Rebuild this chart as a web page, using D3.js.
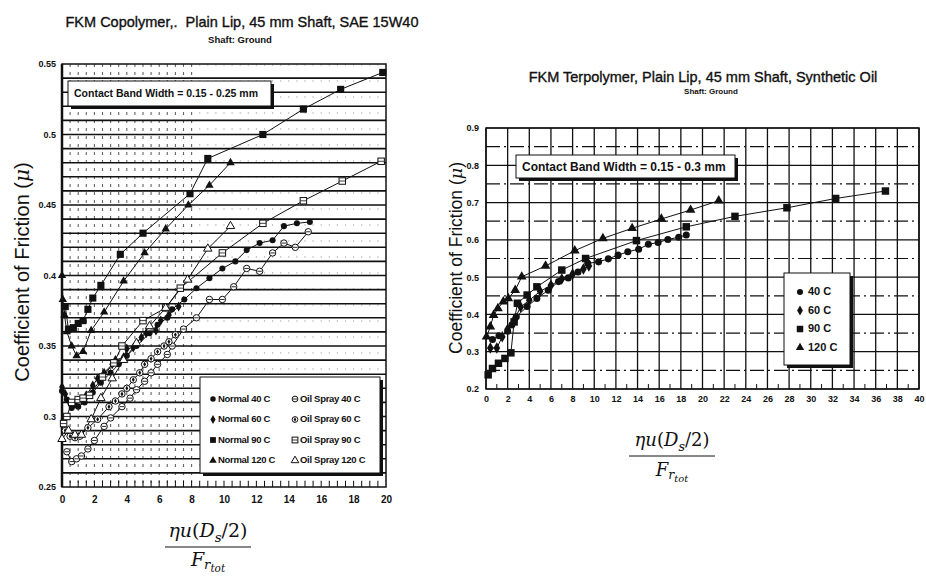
<!DOCTYPE html>
<html><head><meta charset="utf-8">
<script src="https://cdn.jsdelivr.net/npm/d3@7"></script>
<style>
body{margin:0;background:#fff}
svg text{font-family:Arial,"Liberation Sans",sans-serif;fill:#111}
</style></head>
<body><svg id="c" width="926" height="578"></svg>
<script>
// ---------- LEFT chart data (x = eta*u*(Ds/2)/Fr_tot, y = mu) ----------
const leftXTicks = [0,2,4,6,8,10,12,14,16,18,20];
const leftYTicks = [0.25,0.3,0.35,0.4,0.45,0.5,0.55];
const leftYTickLabels = ["0.25","0.3","0.35","0.4","0.45","0.5","0.55"];
const normal40 = [[0.0,0.318],[0.3,0.312],[0.6,0.306],[1.0,0.307],[1.4,0.310],[1.9,0.317],[2.4,0.324],[3.0,0.331],[3.5,0.337],[4.0,0.343],[4.6,0.350],[5.4,0.359],[5.9,0.365],[6.5,0.370],[6.8,0.376],[7.55,0.383],[8.3,0.391],[9.1,0.398],[9.9,0.405],[10.7,0.410],[11.4,0.418],[12.2,0.423],[13.0,0.425],[13.7,0.435],[14.5,0.437],[15.3,0.438]];
const normal60 = [[0.0,0.321],[0.2,0.316],[0.5,0.309],[0.8,0.309],[1.2,0.312],[1.5,0.315],[1.9,0.322],[2.2,0.327],[2.6,0.331],[3.1,0.337],[3.3,0.340],[3.8,0.342],[4.0,0.348],[4.4,0.349],[4.9,0.356],[5.2,0.359],[5.8,0.361],[6.1,0.368],[6.6,0.372],[7.2,0.378]];
const normal90 = [[0.2,0.378],[0.4,0.362],[0.7,0.363],[1.0,0.366],[1.3,0.368],[1.6,0.376],[1.9,0.384],[2.4,0.393],[3.6,0.415],[5.0,0.430],[7.9,0.458],[9.0,0.483],[12.4,0.500],[14.9,0.518],[17.2,0.532],[19.8,0.544]];
const normal120 = [[0.0,0.400],[0.05,0.383],[0.15,0.372],[0.3,0.360],[0.6,0.350],[0.9,0.343],[1.3,0.346],[1.8,0.361],[2.6,0.374],[3.8,0.396],[5.1,0.416],[6.4,0.433],[7.8,0.450],[9.1,0.464],[10.4,0.480]];
const oil40 = [[0.3,0.275],[0.6,0.268],[0.9,0.270],[1.2,0.272],[1.6,0.277],[2.0,0.283],[2.6,0.293],[3.0,0.299],[3.7,0.307],[4.2,0.313],[4.6,0.319],[5.1,0.325],[5.5,0.331],[5.9,0.337],[6.5,0.344],[6.8,0.350],[7.5,0.362],[8.3,0.370],[9.1,0.383],[9.9,0.383],[10.6,0.392],[11.4,0.405],[12.2,0.403],[13.0,0.416],[13.7,0.423],[14.4,0.420],[15.2,0.431]];
const oil60 = [[0.2,0.290],[0.5,0.286],[0.8,0.285],[1.1,0.286],[1.6,0.292],[2.2,0.298],[2.9,0.307],[3.3,0.311],[3.7,0.316],[4.0,0.320],[4.4,0.326],[4.8,0.331],[5.1,0.337],[5.5,0.341],[5.9,0.346],[6.3,0.350],[6.6,0.353],[7.0,0.358]];
const oil90 = [[0.1,0.295],[0.3,0.300],[0.6,0.310],[1.0,0.312],[1.3,0.313],[1.7,0.315],[2.5,0.328],[3.2,0.338],[3.7,0.350],[5.0,0.368],[6.4,0.377],[7.3,0.391],[9.9,0.416],[12.4,0.437],[14.9,0.453],[17.3,0.467],[19.7,0.481]];
const oil120 = [[0.0,0.284],[0.4,0.290],[0.8,0.287],[1.2,0.287],[1.8,0.298],[2.4,0.313],[3.1,0.327],[3.8,0.340],[4.6,0.352],[5.4,0.364],[6.4,0.377],[7.75,0.397],[9.0,0.419],[10.4,0.435]];
const leftSeriesNames = ["Normal 40 C","Normal 60 C","Normal 90 C","Normal 120 C","Oil Spray 40 C","Oil Spray 60 C","Oil Spray 90 C","Oil Spray 120 C"];

// ---------- RIGHT chart data ----------
const rightXTicks = [0,2,4,6,8,10,12,14,16,18,20,22,24,26,28,30,32,34,36,38,40];
const rightYTicks = [0.2,0.3,0.4,0.5,0.6,0.7,0.8,0.9];
const r40 = [[0.6,0.333],[1.2,0.343],[2.0,0.355],[2.4,0.372],[2.8,0.394],[3.8,0.421],[4.7,0.443],[5.75,0.465],[6.7,0.488],[7.6,0.498],[8.5,0.514],[9.4,0.537],[10.4,0.541],[11.3,0.549],[12.2,0.559],[13.1,0.568],[14.1,0.575],[15.0,0.588],[15.9,0.593],[16.8,0.601],[17.8,0.607],[18.5,0.613]];
const r60 = [[0.4,0.310],[1.0,0.310],[1.5,0.340],[2.0,0.360],[2.6,0.385],[3.2,0.420],[4.0,0.438],[5.0,0.462],[6.0,0.478],[7.0,0.495],[8.0,0.508],[9.0,0.522],[9.5,0.530]];
const r90 = [[0.2,0.238],[0.6,0.255],[1.15,0.269],[1.75,0.282],[2.3,0.297],[2.6,0.380],[2.9,0.430],[3.8,0.452],[4.7,0.474],[7.0,0.519],[9.2,0.550],[13.9,0.598],[18.5,0.635],[23.0,0.663],[27.8,0.686],[32.3,0.711],[36.9,0.731]];
const r120 = [[0.05,0.340],[0.4,0.367],[0.7,0.398],[1.1,0.416],[1.6,0.434],[2.06,0.443],[2.7,0.465],[3.3,0.501],[5.5,0.530],[8.2,0.571],[10.8,0.604],[13.5,0.631],[16.2,0.656],[18.9,0.680],[21.5,0.705]];
const rightSeriesNames = ["40 C","60 C","90 C","120 C"];

const svg = d3.select("#c");

// marker drawing
function marker(g, type, x, y, s){
  s = s || 1;
  if(type==="circle") g.append("circle").attr("cx",x).attr("cy",y).attr("r",3.2*s).attr("fill","#111");
  else if(type==="diamond") g.append("path").attr("d",d3.symbol(d3.symbolDiamond,32*s*s)()).attr("transform",`translate(${x},${y})`).attr("fill","#111");
  else if(type==="square") g.append("rect").attr("x",x-3.4*s).attr("y",y-3.4*s).attr("width",6.8*s).attr("height",6.8*s).attr("fill","#111");
  else if(type==="triangle") g.append("path").attr("d",d3.symbol(d3.symbolTriangle,34*s*s)()).attr("transform",`translate(${x},${y})`).attr("fill","#111");
  else if(type==="ocircle"){
    g.append("circle").attr("cx",x).attr("cy",y).attr("r",3.4*s).attr("fill","#fff").attr("stroke","#111").attr("stroke-width",1);
    g.append("line").attr("x1",x-2.4*s).attr("x2",x+2.4*s).attr("y1",y).attr("y2",y).attr("stroke","#111").attr("stroke-width",0.9);
  } else if(type==="odiamond"){
    g.append("circle").attr("cx",x).attr("cy",y).attr("r",3.4*s).attr("fill","#fff").attr("stroke","#111").attr("stroke-width",1);
    g.append("path").attr("d",d3.symbol(d3.symbolDiamond,8*s*s)()).attr("transform",`translate(${x},${y})`).attr("fill","#111");
  } else if(type==="osquare"){
    g.append("rect").attr("x",x-3.4*s).attr("y",y-3.4*s).attr("width",6.8*s).attr("height",6.8*s).attr("fill","#fff").attr("stroke","#111").attr("stroke-width",1);
    g.append("line").attr("x1",x-3.4*s).attr("x2",x+3.4*s).attr("y1",y).attr("y2",y).attr("stroke","#111").attr("stroke-width",0.8);
  } else if(type==="otriangle"){
    g.append("path").attr("d",d3.symbol(d3.symbolTriangle,34*s*s)()).attr("transform",`translate(${x},${y})`).attr("fill","#fff").attr("stroke","#111").attr("stroke-width",1);
  }
}

// ================= LEFT CHART =================
const xL = d3.scaleLinear().domain([0,20]).range([62,386]);
const yL = d3.scaleLinear().domain([0.25,0.55]).range([487,64]);
const gL = svg.append("g");

const vdots = d3.range(0.5,20,0.5);
gL.selectAll(".vd").data(vdots).join("line")
  .attr("x1",d=>xL(d)).attr("x2",d=>xL(d)).attr("y1",yL(0.55)).attr("y2",yL(0.25))
  .attr("stroke","#222").attr("stroke-width",1.1)
  .attr("stroke-dasharray",d=> d<=8 ? "3,5" : "2,14")
  .attr("stroke-opacity",d=> d<=8 ? 0.7 : 0.25);
const hlines = d3.range(26,55).map(v=>v/100);
gL.selectAll(".hl").data(hlines).join("line")
  .attr("x1",xL(0)).attr("x2",xL(20)).attr("y1",d=>yL(d)).attr("y2",d=>yL(d))
  .attr("stroke","#111").attr("stroke-width",1.6);
gL.append("rect").attr("x",xL(0)).attr("y",yL(0.55)).attr("width",xL(20)-xL(0)).attr("height",yL(0.25)-yL(0.55))
  .attr("fill","none").attr("stroke","#111").attr("stroke-width",1.5);
gL.append("line").attr("x1",xL(0)).attr("x2",xL(0)).attr("y1",yL(0.55)).attr("y2",yL(0.25)).attr("stroke","#111").attr("stroke-width",2.5);

const axL = gL.append("g").attr("transform",`translate(${xL(0)},0)`)
  .call(d3.axisLeft(yL).tickValues(leftYTicks).tickFormat((d,i)=>leftYTickLabels[i]).tickSize(0).tickPadding(6));
axL.select(".domain").remove();
axL.selectAll("text").attr("font-size",9).attr("font-weight","bold");
const axLb = gL.append("g").attr("transform",`translate(0,${yL(0.25)})`)
  .call(d3.axisBottom(xL).tickValues(leftXTicks).tickFormat(d3.format("d")).tickSize(0).tickPadding(9));
axLb.select(".domain").remove();
axLb.selectAll("text").attr("font-size",10).attr("font-weight","bold");
gL.selectAll(".bt").data(d3.range(0.5,20,0.5)).join("line")
  .attr("x1",d=>xL(d)).attr("x2",d=>xL(d)).attr("y1",yL(0.25)).attr("y2",yL(0.25)-6).attr("stroke","#111").attr("stroke-width",1);

const lineL = d3.line().x(d=>xL(d[0])).y(d=>yL(d[1]));
const leftSeries = [normal40,normal60,normal90,normal120,oil40,oil60,oil90,oil120];
const leftMarkers = ["circle","diamond","square","triangle","ocircle","odiamond","osquare","otriangle"];
const gData = gL.append("g");
leftSeries.forEach((s,i)=>{
  gData.append("path").attr("d",lineL(s)).attr("fill","none").attr("stroke","#111").attr("stroke-width",1);
});
leftSeries.forEach((s,i)=>{
  s.forEach(p=>marker(gData,leftMarkers[i],xL(p[0]),yL(p[1]),i===2?1.05:0.95));
});

function bandBox(g,x,y,w,h,txt,fs){
  g.append("rect").attr("x",x+3).attr("y",y+3).attr("width",w).attr("height",h).attr("fill","#111");
  g.append("rect").attr("x",x).attr("y",y).attr("width",w).attr("height",h).attr("fill","#fff").attr("stroke","#111").attr("stroke-width",1);
  g.append("text").attr("x",x+6).attr("y",y+h/2+fs*0.36).attr("font-size",fs).attr("font-weight","bold").text(txt);
}
bandBox(gL,68,81,203,25,"Contact Band Width = 0.15 - 0.25 mm",10.5);

const lgL = gL.append("g");
lgL.append("rect").attr("x",203).attr("y",380).attr("width",180).attr("height",96).attr("fill","#111");
lgL.append("rect").attr("x",200).attr("y",377).attr("width",180).attr("height",96).attr("fill","#fff").attr("stroke","#111");
leftSeriesNames.forEach((n,i)=>{
  const col = i<4?0:1, row = i%4;
  const mx = col===0?213:295, my = 398+row*20.5;
  marker(lgL,leftMarkers[i],mx,my+1,0.85);
  lgL.append("text").attr("x",mx+5).attr("y",my+3.5).attr("font-size",9.5).attr("font-weight","bold").attr("letter-spacing",-0.3).text(n);
});

svg.append("text").attr("x",242).attr("y",27).attr("text-anchor","middle").attr("font-size",14.5).style("white-space","pre")
  .attr("stroke","#111").attr("stroke-width",0.35)
  .text("FKM Copolymer,.  Plain Lip, 45 mm Shaft, SAE 15W40");
svg.append("text").attr("x",240).attr("y",43).attr("text-anchor","middle").attr("font-size",9.5).attr("font-weight","bold").text("Shaft: Ground");

function yLabel(x,y,fs){
  const t = svg.append("text").attr("transform",`translate(${x},${y}) rotate(-90)`).attr("text-anchor","middle").attr("font-size",fs);
  t.append("tspan").text("Coefficient of Friction (");
  t.append("tspan").attr("font-family","DejaVu Serif").attr("font-style","italic").text("μ");
  t.append("tspan").text(")");
}
yLabel(29,272,20);

function xFrac(cx,ny,w,fs,gap){
  const t = svg.append("text").attr("x",cx).attr("y",ny).attr("text-anchor","middle").attr("font-size",fs)
    .style("font-family","'DejaVu Serif',serif");
  t.append("tspan").attr("font-style","italic").text("ηu");
  t.append("tspan").text("(");
  t.append("tspan").attr("font-style","italic").text("D");
  t.append("tspan").attr("font-style","italic").attr("font-size",fs*0.7).attr("dy",fs*0.25).text("s");
  t.append("tspan").attr("dy",-fs*0.25).text("/2)");
  svg.append("line").attr("x1",cx-w/2).attr("x2",cx+w/2).attr("y1",ny+10).attr("y2",ny+10).attr("stroke","#111").attr("stroke-width",1);
  const d = svg.append("text").attr("x",cx).attr("y",ny+gap).attr("text-anchor","middle").attr("font-size",fs)
    .style("font-family","'DejaVu Serif',serif");
  d.append("tspan").attr("font-style","italic").text("F");
  d.append("tspan").attr("font-style","italic").attr("font-size",fs*0.7).attr("dy",fs*0.18).text("r");
  d.append("tspan").attr("font-style","italic").attr("font-size",fs*0.55).attr("dy",fs*0.14).text("tot");
}
xFrac(208,537,86,19,29);

// ================= RIGHT CHART =================
const xR = d3.scaleLinear().domain([0,40]).range([486,919]);
const yR = d3.scaleLinear().domain([0.2,0.9]).range([389,128]);
const gR = svg.append("g");
const hMinor = [0.25,0.35,0.45,0.55,0.65,0.75,0.85];
gR.selectAll(".hm").data(hMinor).join("line")
  .attr("x1",xR(0)).attr("x2",xR(40)).attr("y1",d=>yR(d)).attr("y2",d=>yR(d))
  .attr("stroke","#111").attr("stroke-width",1.2).attr("stroke-dasharray","14,4,2,4");
gR.selectAll(".hM").data(rightYTicks).join("line")
  .attr("x1",xR(0)).attr("x2",xR(40)).attr("y1",d=>yR(d)).attr("y2",d=>yR(d))
  .attr("stroke","#111").attr("stroke-width",1.2);
gR.selectAll(".vM").data(rightXTicks).join("line")
  .attr("x1",d=>xR(d)).attr("x2",d=>xR(d)).attr("y1",yR(0.9)).attr("y2",yR(0.2))
  .attr("stroke","#111").attr("stroke-width",1.3);
gR.append("rect").attr("x",xR(0)).attr("y",yR(0.9)).attr("width",xR(40)-xR(0)).attr("height",yR(0.2)-yR(0.9))
  .attr("fill","none").attr("stroke","#111").attr("stroke-width",1.5);
gR.selectAll(".mt").data(d3.range(1,40,2)).join("line")
  .attr("x1",d=>xR(d)).attr("x2",d=>xR(d)).attr("y1",yR(0.2)).attr("y2",yR(0.2)-5).attr("stroke","#111");
const axR = gR.append("g").attr("transform",`translate(${xR(0)},0)`)
  .call(d3.axisLeft(yR).tickValues(rightYTicks).tickFormat(d3.format(".1f")).tickSize(0).tickPadding(7));
axR.select(".domain").remove();
axR.selectAll("text").attr("font-size",9).attr("font-weight","bold");
const axRb = gR.append("g").attr("transform",`translate(0,${yR(0.2)})`)
  .call(d3.axisBottom(xR).tickValues(rightXTicks).tickFormat(d3.format("d")).tickSize(0).tickPadding(7));
axRb.select(".domain").remove();
axRb.selectAll("text").attr("font-size",9).attr("font-weight","bold");

const lineR = d3.line().x(d=>xR(d[0])).y(d=>yR(d[1]));
const rightSeries = [r40,r60,r90,r120];
const rightMarkers = ["circle","diamond","square","triangle"];
const gRD = gR.append("g");
rightSeries.forEach(s=>gRD.append("path").attr("d",lineR(s)).attr("fill","none").attr("stroke","#111").attr("stroke-width",1));
rightSeries.forEach((s,i)=>s.forEach(p=>marker(gRD,rightMarkers[i],xR(p[0]),yR(p[1]),1.1)));

bandBox(gR,516,155,219,23,"Contact Band Width = 0.15 - 0.3 mm",12);

const lgR = gR.append("g");
lgR.append("rect").attr("x",787).attr("y",276).attr("width",66).attr("height",92).attr("fill","#111");
lgR.append("rect").attr("x",784).attr("y",273).attr("width",66).attr("height",92).attr("fill","#fff").attr("stroke","#111");
rightSeriesNames.forEach((n,i)=>{
  const my = 292+i*18.5;
  marker(lgR,rightMarkers[i],800,my,0.95);
  lgR.append("text").attr("x",808).attr("y",my+3).attr("font-size",11).attr("font-weight","bold").text(n);
});

svg.append("text").attr("x",703).attr("y",82).attr("text-anchor","middle").attr("font-size",14.5)
  .attr("stroke","#111").attr("stroke-width",0.35)
  .text("FKM Terpolymer, Plain Lip, 45 mm Shaft, Synthetic Oil");
svg.append("text").attr("x",711).attr("y",94).attr("text-anchor","middle").attr("font-size",8).attr("font-weight","bold").text("Shaft: Ground");
yLabel(462,258,17.5);
xFrac(672,446,86,18,30);
</script></body></html>
